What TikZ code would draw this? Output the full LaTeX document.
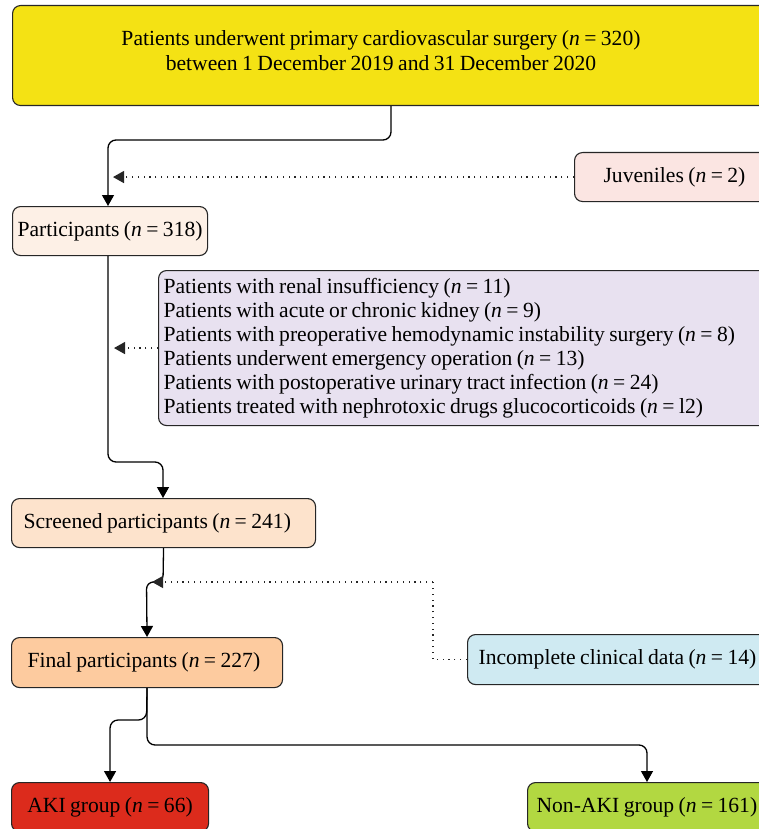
\documentclass[tikz,border=0pt]{standalone}
\usepackage{fontspec}
\setmainfont{Liberation Serif}[WordSpace=0.82]
\usetikzlibrary{arrows.meta,calc}
\definecolor{cyellow}{HTML}{F4E214}
\definecolor{cpink}{HTML}{FBE5E2}
\definecolor{cpart}{HTML}{FDF0E6}
\definecolor{cpurple}{HTML}{E8E1F0}
\definecolor{cscreen}{HTML}{FDE3CC}
\definecolor{cfinal}{HTML}{FDCB9F}
\definecolor{cblue}{HTML}{CFEAF2}
\definecolor{cred}{HTML}{DC2B1C}
\definecolor{cgreen}{HTML}{B2D841}
\newcommand{\boxfont}{\fontsize{21.6}{25}\selectfont}
\newcommand{\leftpar}[2]{\parbox{#1}{\fontsize{21.6}{24}\selectfont #2}}
\begin{document}
\begin{tikzpicture}[x=1pt,y=-1pt,
  box/.style={draw=black!85, line width=1.1pt, rounded corners=8pt, inner sep=0pt,
    anchor=north west, font=\boxfont},
  conn/.style={draw=black, line width=1.3pt, rounded corners=8pt,
    -{Triangle[width=12pt,length=11pt]}},
  dotarrow/.style={draw=black!85, line width=1.2pt, dash pattern=on 1.2pt off 4.6pt,
    -{Triangle[width=12pt,length=11pt]}},
  dotline/.style={draw=black!85, line width=1.2pt, dash pattern=on 1.2pt off 4.6pt},
  txt/.style={inner sep=0pt, font=\boxfont}]
\useasboundingbox (0,0) rectangle (759,829);
\fill[white] (0,0) rectangle (759,829);

% boxes
\node[box, fill=cyellow, minimum width=770pt, minimum height=100pt] (top) at (12,5) {};
\node[txt, align=center] (toptext) at (381,51)
  {Patients underwent primary cardiovascular surgery (\textit{n} = 320)\\between 1 December 2019 and 31 December 2020};
\node[box, fill=cpink, minimum height=49pt, inner xsep=29pt] (juv) at (574,152)
  {\leftpar{200pt}{Juveniles (\textit{n} = 2)}};
\node[box, fill=cpart, minimum width=195pt, minimum height=49pt] (part) at (12,206)
  {Participants (\textit{n} = 318)};
\node[box, fill=cpurple, minimum height=155pt, inner xsep=5pt] (purp) at (158,270)
  {\leftpar{640pt}{Patients with renal insufficiency (\textit{n} = 11)\\
   Patients with acute or chronic kidney (\textit{n} = 9)\\
   Patients with preoperative hemodynamic instability surgery (\textit{n} = 8)\\
   Patients underwent emergency operation (\textit{n} = 13)\\
   Patients with postoperative urinary tract infection (\textit{n} = 24)\\
   Patients treated with nephrotoxic drugs glucocorticoids (\textit{n} = l2)}};
\node[box, fill=cscreen, minimum height=49pt, inner xsep=12pt] (scr) at (11,498)
  {\leftpar{280pt}{Screened participants (\textit{n} = 241)}};
\node[box, fill=cfinal, minimum height=50pt, inner xsep=16pt] (fin) at (11,637)
  {\leftpar{239pt}{Final participants (\textit{n} = 227)}};
\node[box, fill=cblue, minimum height=50pt, inner xsep=11pt] (inc) at (467,634)
  {\leftpar{300pt}{Incomplete clinical data (\textit{n} = 14)}};
\node[box, fill=cred, minimum width=197pt, minimum height=49pt] (aki) at (11,782)
  {AKI group (\textit{n} = 66)};
\node[box, fill=cgreen, minimum height=49pt, inner xsep=9pt] (non) at (527,782)
  {\leftpar{260pt}{Non-AKI group (\textit{n} = 161)}};

% connectors
\coordinate (c1) at (391,140);
\draw[conn] (391,0 |- top.south) -- (c1) -| (108,0 |- part.north);
\coordinate (jtip) at (113,0 |- juv.west);
\draw[dotarrow] (juv.west) -- (jtip);

\coordinate (c2) at (163,462);
\draw[conn] (108,0 |- part.south) |- (c2) -- (163,0 |- scr.north);
\coordinate (ptip) at (114,0 |- purp.west);
\draw[dotarrow] (purp.west) -- (ptip);

\coordinate (c3) at (163,582);
\draw[conn, rounded corners=7pt] (scr.south) -- (c3) -- (146.5,582) -- (fin.north);
\coordinate (c4) at (433,582);
\coordinate (itip) at (152,582);
\draw[dotline] (inc.west) -| (c4);
\draw[dotarrow] (c4) -- (itip);

\coordinate (c5) at (146.5,720);
\draw[conn] (fin.south) -- (c5) -| (aki.north);
\coordinate (c6) at (647,745);
\draw[conn] (fin.south) |- (c6) -- (647,0 |- non.north);
\end{tikzpicture}
\end{document}
